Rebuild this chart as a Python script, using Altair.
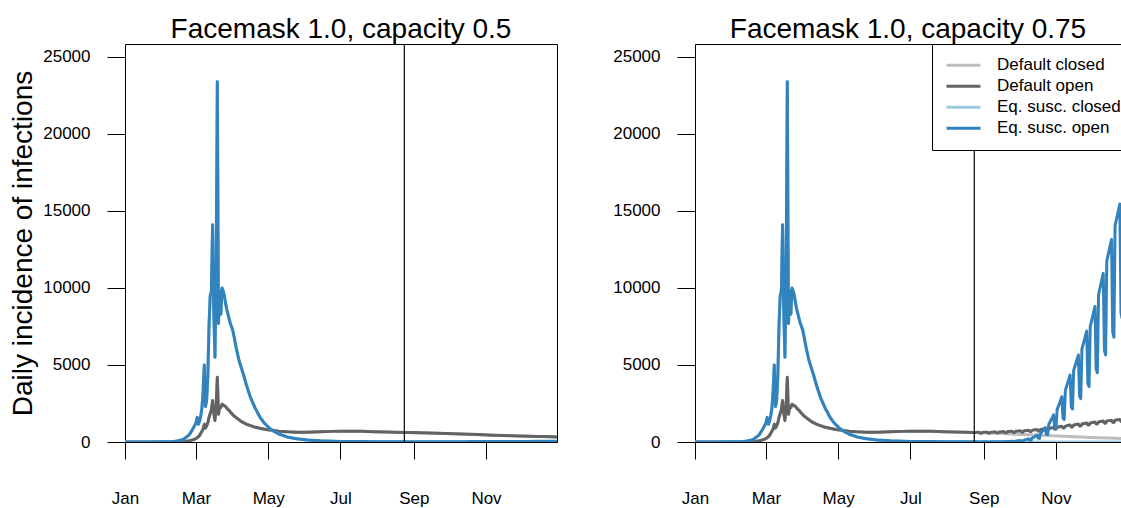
import altair as alt
import pandas as pd

START = pd.Timestamp("2020-01-01")
SERIES = ["Default closed", "Default open", "Eq. susc. closed", "Eq. susc. open"]
COLORS = ["#bdbdbd", "#636363", "#9ecae1", "#3182bd"]
MONTH_TICKS = [1, 3, 5, 7, 9, 11]
Y_TICKS = [0, 5000, 10000, 15000, 20000, 25000]
REOPEN_DAY = 236  # 2020-08-24

# Days since 1 Jan 2020 up to reopening; both scenarios share this stretch
pre_day = [0, 10, 20, 31, 36, 40, 42, 44, 46, 48, 50, 52, 54,
           55, 56, 57, 58, 59, 60, 61, 62, 63, 64, 65, 66, 67, 68, 69, 70,
           71, 72, 73, 74, 75, 76, 77, 78, 79, 80, 81, 82, 83, 84, 85, 86,
           87, 88, 89, 90, 91, 92, 93, 94, 95, 96, 97,
           100, 103, 106, 110, 114, 118, 122, 126, 130, 137, 145, 154, 165,
           175, 182, 190, 200, 210, 220, 228, 236]
pre_default = [0, 1, 2, 5, 8, 12, 15, 20, 26, 33, 40, 55, 80,
               95, 115, 135, 160, 190, 220, 280, 350, 430, 560, 700, 850, 1150, 900, 1050, 1250,
               1600, 1850, 2100, 2700, 1900, 1400, 2300, 4200, 1800, 2300, 2250, 2450, 2400, 2350, 2300, 2200,
               2120, 2050, 1950, 1870, 1780, 1700, 1640, 1580, 1520, 1460, 1400,
               1260, 1150, 1060, 960, 890, 830, 780, 740, 700, 660, 640, 640, 660,
               690, 700, 700, 690, 670, 650, 635, 620]
pre_eq = [0, 1, 3, 10, 18, 30, 45, 65, 95, 140, 200, 330, 450,
          560, 680, 800, 950, 1100, 1250, 1600, 1150, 1350, 1700, 2200, 3300, 5000, 2300, 2700, 4300,
          7600, 9500, 9800, 14100, 8500, 5500, 11000, 23400, 7700, 9800, 8300, 10000, 9800, 9500, 9000, 8600,
          8300, 8000, 7700, 7500, 7270, 6900, 6500, 6100, 5750, 5400, 5130,
          4400, 3600, 2900, 2200, 1620, 1200, 900, 680, 520, 330, 210, 130, 80,
          55, 40, 30, 25, 20, 15, 12, 10]

# Weekly samples after reopening
post_week_day = [236, 243, 250, 257, 264, 271, 278, 285, 292, 299,
                 306, 313, 320, 327, 334, 341, 348, 355, 362, 365]

# Capacity 0.5
cap05_default_closed = [620, 605, 592, 580, 565, 548, 528, 508, 488, 468,
                        448, 430, 414, 398, 383, 368, 352, 338, 323, 318]
cap05_default_open = [620, 610, 600, 590, 575, 560, 540, 520, 500, 480,
                      460, 440, 425, 410, 395, 380, 365, 350, 335, 330]
cap05_eq_closed = [10, 9, 8, 7, 6, 6, 5, 5, 4, 4, 4, 3, 3, 3, 3, 2, 2, 2, 2, 2]
cap05_eq_open = [10, 12, 14, 16, 18, 20, 22, 24, 26, 28,
                 30, 32, 34, 36, 38, 40, 42, 44, 46, 47]

# Capacity 0.75
cap075_default_closed = [620, 600, 580, 560, 535, 510, 485, 460, 440, 420,
                         395, 370, 345, 320, 300, 280, 260, 240, 225, 220]
cap075_eq_closed = [10, 9, 8, 7, 6, 6, 5, 5, 4, 4, 4, 3, 3, 3, 3, 2, 2, 2, 2, 2]

# Daily values from Mon 24 Aug, one row per week (Mon..Sun)
cap075_default_open_daily = [
    620, 624, 628, 632, 636, 570, 566,
    625, 629, 633, 637, 641, 575, 571,
    635, 640, 645, 650, 655, 585, 581,
    650, 656, 662, 668, 674, 600, 596,
    670, 677, 684, 691, 698, 620, 616,
    695, 703, 711, 719, 727, 645, 641,
    725, 734, 743, 752, 761, 675, 671,
    765, 776, 787, 798, 809, 715, 711,
    815, 828, 841, 854, 867, 770, 766,
    880, 895, 910, 925, 940, 835, 831,
    955, 972, 989, 1006, 1023, 910, 906,
    1030, 1048, 1066, 1084, 1102, 980, 976,
    1100, 1118, 1136, 1154, 1172, 1045, 1041,
    1170, 1187, 1204, 1221, 1238, 1110, 1106,
    1240, 1256, 1272, 1288, 1304, 1170, 1166,
    1300, 1316, 1332, 1348, 1364, 1225, 1221,
    1360, 1374, 1388, 1402, 1416, 1275, 1271,
    1415, 1428, 1441, 1454, 1467, 1325, 1321,
]
cap075_eq_open_daily = [
    10, 10, 10, 11, 11, 7, 7,
    11, 12, 12, 13, 13, 8, 8,
    14, 15, 16, 17, 18, 11, 10,
    19, 21, 22, 24, 26, 15, 14,
    30, 34, 38, 42, 47, 28, 26,
    60, 68, 76, 85, 95, 55, 52,
    120, 140, 160, 180, 205, 115, 110,
    260, 300, 345, 395, 450, 250, 235,
    560, 640, 730, 830, 940, 510, 480,
    1150, 1300, 1450, 1600, 1760, 940, 880,
    2100, 2300, 2500, 2720, 2940, 1550, 1460,
    3350, 3600, 3850, 4100, 4350, 2280, 2150,
    4650, 4900, 5150, 5400, 5650, 2980, 2820,
    6050, 6330, 6610, 6900, 7200, 3800, 3600,
    7500, 7820, 8140, 8470, 8800, 4750, 4500,
    9550, 9900, 10250, 10600, 10950, 5950, 5650,
    11750, 12100, 12450, 12800, 13150, 7150, 6800,
    14050, 14400, 14750, 15100, 15450, 8400, 8000,
]
post_daily_day = list(range(REOPEN_DAY, REOPEN_DAY + len(cap075_eq_open_daily)))


def to_dates(days):
    return [(START + pd.Timedelta(days=d)).strftime("%Y-%m-%d") for d in days]


def series(name, pre_values, post_days, post_values):
    days = pre_day[:-1] + list(post_days)
    values = pre_values[:-1] + list(post_values)
    return pd.DataFrame({"date": to_dates(days), "value": values, "series": name})


frame05 = pd.concat([
    series("Default closed", pre_default, post_week_day, cap05_default_closed),
    series("Default open", pre_default, post_week_day, cap05_default_open),
    series("Eq. susc. closed", pre_eq, post_week_day, cap05_eq_closed),
    series("Eq. susc. open", pre_eq, post_week_day, cap05_eq_open),
], ignore_index=True)

frame075 = pd.concat([
    series("Default closed", pre_default, post_week_day, cap075_default_closed),
    series("Default open", pre_default, post_daily_day, cap075_default_open_daily),
    series("Eq. susc. closed", pre_eq, post_week_day, cap075_eq_closed),
    series("Eq. susc. open", pre_eq, post_daily_day, cap075_eq_open_daily),
], ignore_index=True)

reopen = pd.DataFrame({"date": to_dates([REOPEN_DAY])})

FONT = "Liberation Sans"


def utc_date(month, day):
    return alt.DateTime(year=2020, month=month, date=day, utc=True)


AXIS_STYLE = dict(
    labelFont=FONT,
    labelFontSize=17,
    labelColor="black",
    tickColor="black",
    tickWidth=1,
    domain=False,
    grid=False,
)


def panel(frame, title, width, end_day, y_title, legend):
    x = alt.X(
        "date:T",
        scale=alt.Scale(type="utc", domain=[utc_date(1, 1), utc_date(12, end_day)]),
        axis=alt.Axis(
            values=[utc_date(m, 1) for m in MONTH_TICKS],
            format="%b",
            tickSize=17,
            labelPadding=31,
            labelFlush=False,
            labelOverlap=False,
            **AXIS_STYLE,
        ),
        title=None,
    )
    y_axis = dict(values=Y_TICKS, format="d", tickSize=18, labelPadding=17, **AXIS_STYLE)
    if y_title:
        y_axis.update(titleX=-94, titleY=199, titleAngle=270, titleAlign="center",
                      titleBaseline="alphabetic", titleFontSize=28,
                      titleFontWeight="normal", titleColor="black", titleFont=FONT)
    y = alt.Y(
        "value:Q",
        scale=alt.Scale(domain=[0, 25844], nice=False, zero=False),
        axis=alt.Axis(**y_axis),
        title="Daily incidence of infections" if y_title else None,
    )
    color = alt.Color(
        "series:N",
        scale=alt.Scale(domain=SERIES, range=COLORS),
        legend=legend,
    )
    layers = []
    for name in SERIES:
        layers.append(
            alt.Chart(frame)
            .transform_filter(alt.datum.series == name)
            .mark_line(strokeWidth=3, clip=True, strokeJoin="round")
            .encode(x=x, y=y, color=color)
        )
    rule = alt.Chart(reopen).mark_rule(color="black", strokeWidth=1.2).encode(x=x)
    return alt.layer(*layers, rule).properties(
        width=width,
        height=398,
        title=alt.Title(
            title, fontSize=28, fontWeight="normal", font=FONT, color="black",
            offset=-1, anchor="middle", frame="group",
        ),
    )


legend = alt.Legend(
    orient="none",
    legendX=237,
    legendY=0,
    title=None,
    symbolType="stroke",
    symbolStrokeWidth=3,
    symbolSize=1156,
    symbolOffset=2,
    clipHeight=20.7,
    rowPadding=0,
    labelOffset=15,
    labelFontSize=17,
    labelFont=FONT,
    labelColor="black",
    padding=11,
    fillColor="white",
    strokeColor="black",
    cornerRadius=0,
)

left = panel(frame05, "Facemask 1.0, capacity 0.5", 432, 31, True, None)
right = panel(frame075, "Facemask 1.0, capacity 0.75", 426, 26, False, legend)

chart = (
    alt.hconcat(left, right, spacing=138, bounds="flush")
    .resolve_scale(color="independent")
    .resolve_legend(color="independent")
    .properties(
        background="white",
        autosize=alt.AutoSizeParams(type="none"),
        padding={"left": 125, "top": 44, "right": 996, "bottom": 464},
    )
    .configure_view(stroke="black", strokeWidth=1)
)

chart.save("out.html", embed_options={"renderer": "svg", "actions": False})
